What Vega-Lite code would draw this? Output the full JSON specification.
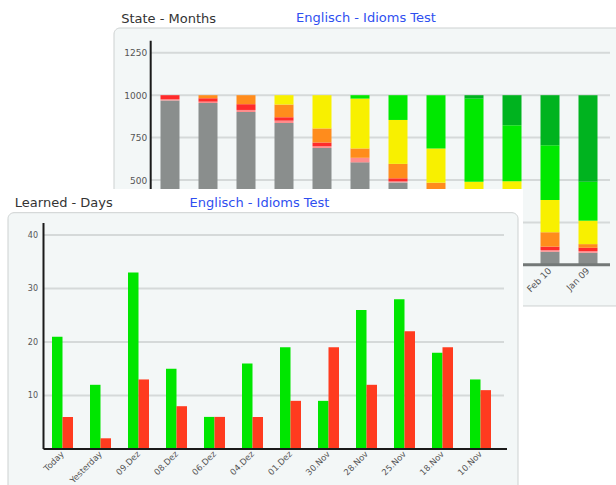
{
  "$schema": "https://vega.github.io/schema/vega-lite/v6.json",
  "width": 616,
  "height": 485,
  "autosize": {"type": "none"},
  "padding": 0,
  "background": "white",
  "resolve": {"scale": {"x": "independent", "y": "independent", "color": "independent"}, "axis": {"x": "independent", "y": "independent"}},
  "config": {
    "font": "DejaVu Sans",
    "view": {"stroke": null},
    "axis": {"domain": false, "ticks": false, "grid": false, "labelColor": "#555555", "labelFont": "DejaVu Sans", "titleFont": "DejaVu Sans", "titleFontWeight": "normal", "titleFontSize": 13}
  },
  "datasets": {
    "one": [{}],
    "bgrid": [{"v": 250}, {"v": 500}, {"v": 750}, {"v": 1000}, {"v": 1250}],
    "fgrid": [{"v": 10}, {"v": 20}, {"v": 30}, {"v": 40}],
    "back": [
      {"month": "Dez 10", "level": 0, "count": 969}, {"month": "Dez 10", "level": 1, "count": 7}, {"month": "Dez 10", "level": 2, "count": 24},
      {"month": "Nov 10", "level": 0, "count": 954}, {"month": "Nov 10", "level": 1, "count": 8}, {"month": "Nov 10", "level": 2, "count": 20}, {"month": "Nov 10", "level": 3, "count": 18},
      {"month": "Okt 10", "level": 0, "count": 901}, {"month": "Okt 10", "level": 1, "count": 12}, {"month": "Okt 10", "level": 2, "count": 34}, {"month": "Okt 10", "level": 3, "count": 53},
      {"month": "Sep 10", "level": 0, "count": 836}, {"month": "Sep 10", "level": 1, "count": 14}, {"month": "Sep 10", "level": 2, "count": 20}, {"month": "Sep 10", "level": 3, "count": 75}, {"month": "Sep 10", "level": 4, "count": 55},
      {"month": "Aug 10", "level": 0, "count": 689}, {"month": "Aug 10", "level": 1, "count": 10}, {"month": "Aug 10", "level": 2, "count": 22}, {"month": "Aug 10", "level": 3, "count": 83}, {"month": "Aug 10", "level": 4, "count": 196},
      {"month": "Jul 10", "level": 0, "count": 604}, {"month": "Jul 10", "level": 1, "count": 27}, {"month": "Jul 10", "level": 3, "count": 55}, {"month": "Jul 10", "level": 4, "count": 294}, {"month": "Jul 10", "level": 5, "count": 20},
      {"month": "Jun 10", "level": 0, "count": 486}, {"month": "Jun 10", "level": 1, "count": 6}, {"month": "Jun 10", "level": 2, "count": 18}, {"month": "Jun 10", "level": 3, "count": 85}, {"month": "Jun 10", "level": 4, "count": 259}, {"month": "Jun 10", "level": 5, "count": 146},
      {"month": "Mai 10", "level": 0, "count": 409}, {"month": "Mai 10", "level": 1, "count": 15}, {"month": "Mai 10", "level": 2, "count": 15}, {"month": "Mai 10", "level": 3, "count": 45}, {"month": "Mai 10", "level": 4, "count": 202}, {"month": "Mai 10", "level": 5, "count": 314},
      {"month": "Apr 10", "level": 0, "count": 350}, {"month": "Apr 10", "level": 1, "count": 20}, {"month": "Apr 10", "level": 2, "count": 20}, {"month": "Apr 10", "level": 3, "count": 40}, {"month": "Apr 10", "level": 4, "count": 60}, {"month": "Apr 10", "level": 5, "count": 490}, {"month": "Apr 10", "level": 6, "count": 20},
      {"month": "Mär 10", "level": 0, "count": 333}, {"month": "Mär 10", "level": 1, "count": 20}, {"month": "Mär 10", "level": 2, "count": 30}, {"month": "Mär 10", "level": 3, "count": 60}, {"month": "Mär 10", "level": 4, "count": 50}, {"month": "Mär 10", "level": 5, "count": 330}, {"month": "Mär 10", "level": 6, "count": 177},
      {"month": "Feb 10", "level": 0, "count": 77}, {"month": "Feb 10", "level": 1, "count": 10}, {"month": "Feb 10", "level": 2, "count": 20}, {"month": "Feb 10", "level": 3, "count": 85}, {"month": "Feb 10", "level": 4, "count": 190}, {"month": "Feb 10", "level": 5, "count": 323}, {"month": "Feb 10", "level": 6, "count": 295},
      {"month": "Jan 09", "level": 0, "count": 71}, {"month": "Jan 09", "level": 1, "count": 10}, {"month": "Jan 09", "level": 2, "count": 19}, {"month": "Jan 09", "level": 3, "count": 22}, {"month": "Jan 09", "level": 4, "count": 138}, {"month": "Jan 09", "level": 5, "count": 230}, {"month": "Jan 09", "level": 6, "count": 510}
    ],
    "front": [
      {"day": "Today", "series": "learned", "n": 21}, {"day": "Today", "series": "forgotten", "n": 6},
      {"day": "Yesterday", "series": "learned", "n": 12}, {"day": "Yesterday", "series": "forgotten", "n": 2},
      {"day": "09.Dez", "series": "learned", "n": 33}, {"day": "09.Dez", "series": "forgotten", "n": 13},
      {"day": "08.Dez", "series": "learned", "n": 15}, {"day": "08.Dez", "series": "forgotten", "n": 8},
      {"day": "06.Dez", "series": "learned", "n": 6}, {"day": "06.Dez", "series": "forgotten", "n": 6},
      {"day": "04.Dez", "series": "learned", "n": 16}, {"day": "04.Dez", "series": "forgotten", "n": 6},
      {"day": "01.Dez", "series": "learned", "n": 19}, {"day": "01.Dez", "series": "forgotten", "n": 9},
      {"day": "30.Nov", "series": "learned", "n": 9}, {"day": "30.Nov", "series": "forgotten", "n": 19},
      {"day": "28.Nov", "series": "learned", "n": 26}, {"day": "28.Nov", "series": "forgotten", "n": 12},
      {"day": "25.Nov", "series": "learned", "n": 28}, {"day": "25.Nov", "series": "forgotten", "n": 22},
      {"day": "18.Nov", "series": "learned", "n": 18}, {"day": "18.Nov", "series": "forgotten", "n": 19},
      {"day": "10.Nov", "series": "learned", "n": 13}, {"day": "10.Nov", "series": "forgotten", "n": 11}
    ]
  },
  "layer": [
    {
      "layer": [
        {
          "data": {"name": "one"},
          "mark": {"type": "rect", "fill": "#f3f7f7", "stroke": "#cdd1d1", "strokeWidth": 1, "cornerRadius": 6, "clip": true},
          "encoding": {
            "x": {"datum": "Dez 10", "type": "nominal", "bandPosition": -2.447, "scale": {"domain": ["Dez 10","Nov 10","Okt 10","Sep 10","Aug 10","Jul 10","Jun 10","Mai 10","Apr 10","Mär 10","Feb 10","Jan 09"], "range": [151, 607], "paddingInner": 0.5, "paddingOuter": 0.25}},
            "x2": {"datum": "Jan 09", "bandPosition": 3},
            "y": {"datum": 1396.2, "type": "quantitative", "scale": {"domain": [-1298.3, 1561.3], "nice": false, "zero": false}},
            "y2": {"datum": -242.9}
          }
        },
        {
          "data": {"name": "bgrid"},
          "mark": {"type": "rule", "color": "#d5d9d9", "strokeWidth": 2},
          "encoding": {
            "x": {"datum": "Dez 10", "type": "nominal", "bandPosition": -0.516},
            "x2": {"datum": "Jan 09", "bandPosition": 1.658},
            "y": {"field": "v", "type": "quantitative"}
          }
        },
        {
          "data": {"name": "back"},
          "mark": {"type": "bar"},
          "encoding": {
            "x": {"field": "month", "type": "nominal", "sort": null,
              "axis": {"zindex": 2, "orient": "bottom", "offset": -220.2, "values": ["Feb 10", "Jan 09"], "labelAngle": -45, "labelFontSize": 9, "labelPadding": 4,
                "title": "Englisch - Idioms Test", "titleX": 365.5, "titleY": -242.8, "titleAlign": "center", "titleBaseline": "alphabetic", "titleColor": "#2f4ff0"}},
            "y": {"field": "count", "type": "quantitative", "stack": "zero",
              "axis": {"zindex": 2, "orient": "left", "offset": -150.7, "values": [500, 750, 1000, 1250], "format": "d", "labelFontSize": 9, "labelPadding": 4,
                "title": "State - Months", "titleAngle": 0, "titleX": -30, "titleY": 22, "titleAlign": "left", "titleBaseline": "alphabetic", "titleColor": "#333333"}},
            "order": {"field": "level", "type": "quantitative", "sort": "ascending"},
            "color": {"field": "level", "type": "ordinal", "legend": null,
              "scale": {"domain": [0, 1, 2, 3, 4, 5, 6], "range": ["#8a8e8d", "#ff8c8c", "#ff2b2b", "#ff8c1c", "#f8f000", "#00e800", "#00b31f"]}}
          }
        },
        {
          "data": {"name": "one"},
          "mark": {"type": "rule", "color": "#1a1a1a", "strokeWidth": 2},
          "encoding": {
            "x": {"datum": "Dez 10", "type": "nominal", "bandPosition": -0.516},
            "y": {"datum": 0, "type": "quantitative"},
            "y2": {"datum": 1321}
          }
        },
        {
          "data": {"name": "one"},
          "mark": {"type": "rule", "color": "#737877", "strokeWidth": 3},
          "encoding": {
            "x": {"datum": "Dez 10", "type": "nominal", "bandPosition": -0.516},
            "x2": {"datum": "Jan 09", "bandPosition": 1.658},
            "y": {"datum": 0, "type": "quantitative"}
          }
        }
      ]
    },
    {
      "layer": [
        {
          "data": {"name": "one"},
          "mark": {"type": "rect", "fill": "white", "clip": true},
          "encoding": {
            "x": {"datum": "Today", "type": "nominal", "bandPosition": -2.476, "scale": {"domain": ["Today","Yesterday","09.Dez","08.Dez","06.Dez","04.Dez","01.Dez","30.Nov","28.Nov","25.Nov","18.Nov","10.Nov"], "range": [43.5, 499.5], "paddingInner": 0.4474, "paddingOuter": 0.2237}},
            "x2": {"datum": "10.Nov", "bandPosition": 2.524},
            "y": {"datum": 48.6, "type": "quantitative", "scale": {"domain": [-6.73, 83.93], "nice": false, "zero": false}},
            "y2": {"datum": -20}
          }
        },
        {
          "data": {"name": "one"},
          "mark": {"type": "rect", "fill": "#f3f7f7", "stroke": "#cdd1d1", "strokeWidth": 1, "cornerRadius": 6, "clip": true},
          "encoding": {
            "x": {"datum": "Today", "type": "nominal", "bandPosition": -2.095},
            "x2": {"datum": "10.Nov", "bandPosition": 2.286},
            "y": {"datum": 44.17, "type": "quantitative"},
            "y2": {"datum": -20}
          }
        },
        {
          "data": {"name": "fgrid"},
          "mark": {"type": "rule", "color": "#d5d9d9", "strokeWidth": 2},
          "encoding": {
            "x": {"datum": "Today", "type": "nominal", "bandPosition": -0.405},
            "x2": {"datum": "10.Nov", "bandPosition": 1.619},
            "y": {"field": "v", "type": "quantitative"}
          }
        },
        {
          "data": {"name": "front"},
          "mark": {"type": "bar"},
          "encoding": {
            "x": {"field": "day", "type": "nominal", "sort": null,
              "axis": {"zindex": 2, "orient": "bottom", "offset": -36, "labelAngle": -45, "labelFontSize": 8.5, "labelPadding": 3,
                "title": "Englisch - Idioms Test", "titleX": 259, "titleY": -243, "titleAlign": "center", "titleBaseline": "alphabetic", "titleColor": "#2f4ff0"}},
            "xOffset": {"field": "series", "type": "nominal", "scale": {"domain": ["learned", "forgotten"], "paddingInner": 0, "paddingOuter": 0}},
            "y": {"field": "n", "type": "quantitative",
              "axis": {"zindex": 2, "orient": "left", "offset": -43.5, "values": [10, 20, 30, 40], "labelFontSize": 8, "labelPadding": 6,
                "title": "Learned - Days", "titleAngle": 0, "titleX": -29.2, "titleY": 206, "titleAlign": "left", "titleBaseline": "alphabetic", "titleColor": "#333333"}},
            "color": {"field": "series", "type": "nominal", "legend": null,
              "scale": {"domain": ["learned", "forgotten"], "range": ["#00e600", "#ff3b1f"]}}
          }
        },
        {
          "data": {"name": "one"},
          "mark": {"type": "rule", "color": "#1a1a1a", "strokeWidth": 2},
          "encoding": {
            "x": {"datum": "Today", "type": "nominal", "bandPosition": -0.405},
            "y": {"datum": 0, "type": "quantitative"},
            "y2": {"datum": 42.24}
          }
        },
        {
          "data": {"name": "one"},
          "mark": {"type": "rule", "color": "#1a1a1a", "strokeWidth": 2},
          "encoding": {
            "x": {"datum": "Today", "type": "nominal", "bandPosition": -0.405},
            "x2": {"datum": "10.Nov", "bandPosition": 1.762},
            "y": {"datum": 0, "type": "quantitative"}
          }
        }
      ]
    }
  ]
}
